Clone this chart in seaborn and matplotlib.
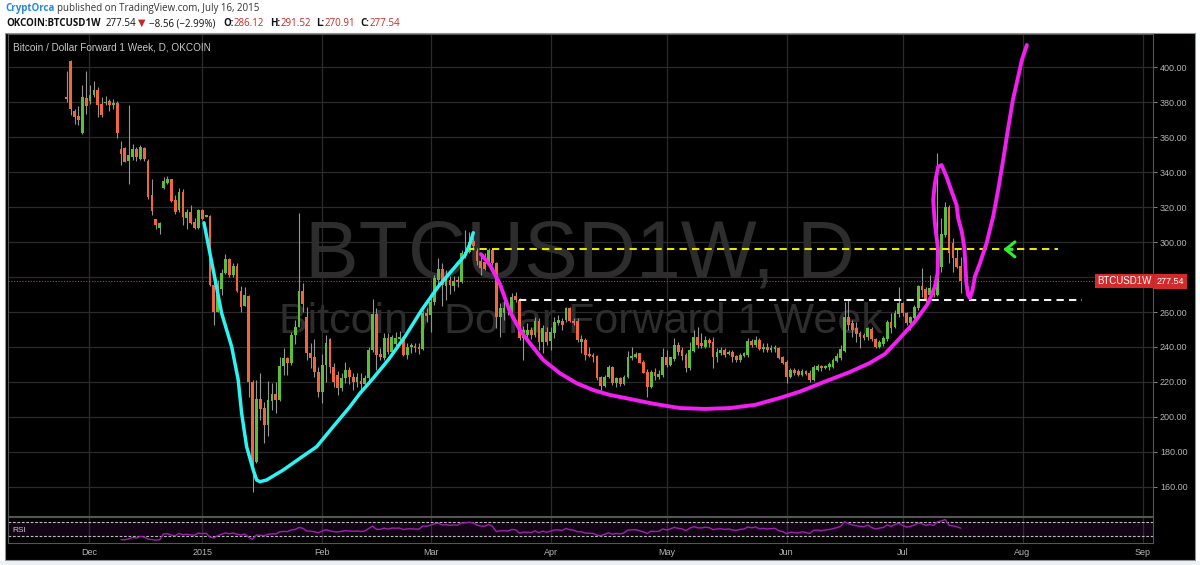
import numpy as np
import pandas as pd
import matplotlib
matplotlib.use("Agg")
import matplotlib.pyplot as plt
import matplotlib.dates as mdates
from matplotlib.patches import Rectangle
import seaborn as sns

# ---------------- data ----------------
START = "2014-11-27"
# daily OHLC, Nov 27 2014 -> Jul 16 2015
OPEN = [
    383, 403.4, 374.7, 372,                                                   # Nov 27-30
    362.3, 382.5, 380.4, 383.8, 386.7, 378.7, 379.5, 380.6, 378.5, 379.4,     # Dec 1-10
    353.3, 354, 346.5, 348.6, 353.3, 347.6, 353.7, 346.1, 326.7, 313,         # Dec 11-20
    308, 330.9, 333.7, 335.8, 323.8, 318.1, 328.6, 313.9, 317.1, 311.4, 308,  # Dec 21-31
    318.5, 314.5, 314.6, 275.2, 260.2, 272.9, 282.1, 290.1, 281.1, 286.3,     # Jan 1-10
    272.2, 263.6, 269.1, 219.8, 174.5, 210.3, 204.9, 195.4, 209.3, 212.9,     # Jan 11-20
    209.7, 229.3, 233.5, 231, 246.9, 251.6, 272.2, 257.3, 236.4, 234, 225.9,  # Jan 21-31
    214.1, 229.7, 244.4, 228.8, 224, 216.4, 222.1, 226.9, 223, 220.2,         # Feb 1-10
    220.6, 218.9, 222.1, 238.3, 259, 236, 233.5, 245, 237.3, 241.7,           # Feb 11-20
    244.4, 245.5, 235.4, 240.2, 240.8, 240.2, 238.7, 259.2,                   # Feb 21-28
    258.3, 265.9, 278.3, 284.4, 274.9, 278.3, 274.9, 278.3, 277.3, 293.5,     # Mar 1-10
    294.5, 300.8, 295, 289.3, 288.8, 289.3, 295.4, 287.8, 257.3, 259.2,       # Mar 11-20
    262.1, 260.2, 269.1, 266.9, 245, 247, 249.7, 246.9, 255, 243, 248.8,      # Mar 21-31
    243.6, 247.8, 253.5, 255, 255.4, 262.1, 255, 255, 243, 244,               # Apr 1-10
    235.4, 235.4, 234.9, 223, 217.7, 222.7, 228.4, 219.2, 222.5, 218.9,       # Apr 11-20
    222.7, 233.8, 234.5, 236.4, 231.6, 225.9, 217, 225.9, 223.1, 224,         # Apr 21-30
    234.1, 229.7, 233, 241.1, 238.3, 235.4, 227.8, 237.9, 245.9, 242.1,       # May 1-10
    240.2, 244, 242.7, 234.5, 236.4, 238.3, 235.8, 237.3, 234.9, 232.6,       # May 11-20
    234.9, 235.4, 243.6, 241.1, 244, 238.7, 240.2, 238.3, 239, 239.2, 234.5,  # May 21-31
    231.6, 223, 226.9, 226.5, 224, 226.5, 225.4, 221.1, 226.9, 229.2,         # Jun 1-10
    227.8, 228.4, 228.8, 232.2, 233.5, 237.9, 257.3, 253.5, 250.7, 248.2,     # Jun 11-20
    246.9, 245.5, 250.5, 244.4, 240.2, 241.7, 244.4, 254.5, 251.6, 258.8,     # Jun 21-30
    265.3, 259.2, 253.9, 256.4, 262.1, 274.9, 273, 269.7, 273.5, 269.7,       # Jul 1-10
    285.9, 304, 320.2, 299.2, 290.7, 286.12,                                  # Jul 11-16
]
HIGH = [
    398, 404, 376, 378,
    389.5, 397.5, 389.5, 391.8, 388.6, 382.9, 383.4, 381.5, 381.5, 380.4,
    358, 354.3, 378.1, 356.2, 354.3, 355.6, 354.3, 347.2, 335.8, 313.3,
    311.4, 337, 337.5, 336.2, 326.7, 330.9, 330.5, 318.7, 321, 313.7, 319,
    319, 315.2, 315.2, 283.8, 278.3, 284.4, 293.1, 291, 287.8, 287.8,
    274.9, 274.1, 269.7, 221.1, 221.1, 225, 208.7, 220.6, 219.2, 220.2,
    234.5, 239.6, 234.5, 248.8, 255.4, 316.4, 276.4, 263, 242.1, 244.4, 228.8,
    235.8, 246.9, 245, 230.6, 226, 225, 231.6, 228.8, 225, 225,
    225.3, 224, 240.2, 267.2, 262.1, 239.2, 247.8, 247.8, 246.9, 248.8,
    249.3, 246.3, 242.1, 242.1, 242.5, 242.1, 261.1, 262.1,
    268.8, 281.1, 290.7, 287.8, 284, 280.6, 280.6, 280.6, 295.4, 306.9,
    305.9, 303, 296.4, 292.6, 293.5, 296.4, 296.4, 288.8, 265, 267.8,
    264, 270.7, 271.6, 267.8, 252, 253.5, 251.6, 257.3, 256.4, 252.6, 251.6,
    251.6, 257.3, 258.3, 256.4, 263, 263, 256.4, 256.4, 246.9, 244.9,
    240.2, 236.4, 235.4, 223.4, 224, 229.7, 229.2, 223, 223, 224,
    237.9, 240.2, 237.3, 236.8, 232.6, 227.2, 226.9, 227.8, 226.9, 239.2,
    238.3, 234.5, 245, 243, 240.2, 236.4, 243, 249.7, 251.6, 248.2,
    246.3, 245, 245.9, 239.2, 240.2, 239.2, 238.3, 238.3, 235.4, 236.4,
    237.3, 245, 244.4, 246.3, 244.9, 242.1, 242.1, 241.1, 241.1, 240.2, 234.9,
    232.6, 227.8, 227.8, 227.2, 227.2, 226.9, 226.9, 229.7, 230.3, 229.7,
    229.9, 231.6, 233.5, 236.4, 241.1, 265.9, 266.9, 255.4, 254.5, 249.3,
    247.8, 251.6, 251.2, 245, 244, 246.3, 255.4, 259.2, 261.1, 274.5,
    265.9, 260.2, 257.7, 264, 275.4, 285, 274.5, 281.1, 274.5, 350.7,
    313.5, 323, 321.2, 302.1, 296.4, 291.52,
]
LOW = [
    380, 372.4, 367.6, 367,
    362, 373.3, 379, 382.9, 371.4, 371.2, 378.5, 375, 375.8, 359.4,
    343.8, 345.7, 333.3, 346.7, 346.1, 346.7, 346.1, 324.8, 315.6, 307.6,
    304.8, 330.5, 333.1, 322.9, 316.2, 317.1, 309.5, 307.2, 310.5, 307.6, 307.6,
    312.4, 314.2, 275, 252.4, 260, 269.7, 281.7, 280.2, 280.2, 271.6,
    260.2, 263.4, 211.6, 157.3, 173.5, 198.3, 185, 189.1, 204, 202.5,
    209.3, 224, 224, 229.7, 241.5, 251.6, 260.2, 232.6, 227.8, 223.1, 211.6,
    207.8, 220.2, 225, 217, 212.6, 215, 219.2, 219, 215.4, 217,
    214.5, 218.3, 220.2, 237.3, 226.9, 232.6, 232.6, 236, 235.4, 240.6,
    244, 234.9, 233, 236.4, 237.3, 236, 238.3, 254.5,
    248.8, 264, 274.9, 263.4, 266.9, 270.3, 272.2, 274.1, 276.4, 290.7,
    293.5, 295.4, 286.9, 281.1, 284, 287.8, 286.9, 250.7, 245.9, 255.4,
    258.5, 259.2, 265.9, 244, 232.6, 244, 244.5, 245.9, 238.3, 236.4, 241.1,
    238.3, 244.9, 252.6, 249.7, 254.5, 254.5, 252.6, 243, 236.4, 232.6,
    234.5, 231.6, 221.1, 215.4, 217.3, 222.1, 218.3, 217.3, 217.7, 218.3,
    222.1, 232.6, 233.5, 230.7, 225, 211.6, 216.4, 221.1, 221.5, 223,
    228.8, 229.3, 232.2, 235.4, 232.6, 225.9, 226.9, 237.3, 239.2, 239.2,
    239.2, 240.2, 227.8, 231.6, 235.4, 234.5, 235.4, 231.6, 231.6, 231.6,
    234.5, 234.5, 240.2, 240.2, 238.3, 237.3, 237.3, 237.3, 237.3, 233, 230.3,
    219.2, 222.1, 224, 223.4, 223.4, 224, 220.2, 220.8, 226.5, 226.5,
    227.2, 226.9, 227.8, 231.6, 232.6, 237.3, 249.7, 245.9, 243, 239.2,
    244, 244, 243.6, 239.2, 239.2, 240.6, 243.6, 247.8, 250.7, 257.3,
    257.7, 252.6, 249.7, 255.4, 261.1, 268.8, 264, 268.8, 268.8, 269.1,
    283.1, 303, 288.2, 283.1, 284.9, 270.91,
]
CLOSE = [
    382, 376.2, 371.4, 370,
    382.9, 377.7, 384.2, 386.7, 378.5, 372.8, 380, 378.5, 379.4, 362.3,
    350.3, 346, 349.5, 353.3, 348.6, 354.1, 347.2, 325.7, 317.5, 310,
    311, 334.7, 336.2, 323.2, 317.1, 328.6, 314.3, 317.1, 310.9, 308, 318.5,
    313, 314.9, 275.2, 260, 272.9, 282.5, 290.1, 281.1, 286.3, 272,
    263.1, 269.7, 219.8, 174.5, 210.3, 204.4, 195.4, 209.7, 212.9, 209.7,
    229.3, 233.5, 231, 246.9, 251.6, 272.2, 264.6, 236.4, 233.5, 225.9, 214.1,
    229.7, 242.1, 228.8, 220.2, 216.4, 222.1, 226.9, 223, 220.2, 223,
    218.9, 222.1, 238.3, 259, 235.4, 234.1, 245, 237.3, 245.5, 244.9,
    245.5, 235.4, 240.2, 240.8, 239.2, 238.7, 259.2, 257.7,
    265.9, 279.2, 284.4, 275.4, 278.3, 275.4, 277.7, 277.3, 293.5, 294.5,
    300.2, 297.7, 289.3, 285, 284.4, 295.4, 287.8, 257.3, 262.1, 262.1,
    261.1, 268.8, 266.9, 244.9, 249.7, 249.7, 246.9, 255, 243, 250.7, 243,
    248.8, 254.5, 255.4, 252.6, 262.1, 255, 253.5, 244, 244.5, 235.4,
    235, 234.5, 222.1, 217.7, 223, 228.4, 219.2, 222.1, 218.9, 222.7,
    234.5, 234.9, 236, 231, 225.4, 217, 225.9, 223.4, 224.5, 234.1,
    229.7, 234.1, 241.1, 237.3, 234.9, 227.8, 238.3, 245.9, 241.1, 240.6,
    244, 242.5, 234.5, 237.3, 238.3, 235.4, 237.3, 234.1, 232.6, 235.4,
    236.8, 243.6, 241.1, 244, 238.7, 240.2, 238.3, 239.6, 240.2, 233.5, 230.7,
    223, 226.9, 225, 224, 226.5, 224.5, 221.1, 228.8, 229.2, 227.8,
    229.2, 230.3, 232.6, 234.9, 238.7, 257.3, 252.6, 249.7, 247.4, 245.9,
    244.9, 250.7, 244.4, 240.2, 243, 244.9, 254.5, 250.7, 259.2, 265.3,
    259.2, 253.9, 256.9, 263, 274.9, 272.6, 267.3, 273.5, 269.7, 295.4,
    304.6, 320.2, 293.9, 290.7, 285.9, 277.54,
]

# hand-drawn annotation curves: days after 2015-01-01 and price
CYAN_DAY = [0.44, 2.84, 5.01, 7.60, 9.30, 10.18, 11.47, 13.18, 14.06, 14.91, 16.64,
            20.93, 25.25, 29.56, 33.85, 38.17, 40.75, 43.77, 48.06, 52.38, 56.69,
            60.98, 65.37, 67.95, 69.24, 70.03]
CYAN_PRICE = [311.0, 284.0, 259.3, 240.2, 221.1, 202.1, 183.0, 169.7, 164.0, 163.0, 164.0,
              169.7, 176.4, 183.0, 194.5, 205.9, 213.5, 221.1, 232.6, 245.9, 261.1,
              274.5, 285.9, 292.6, 299.3, 305.3]
MAG_DAY = [72.02, 74.34, 76.93, 79.51, 82.09, 84.68, 88.11, 92.43, 96.74, 101.03, 105.35,
           110.52, 116.98, 123.44, 129.90, 136.36, 142.82, 149.28, 154.44, 160.90, 167.36,
           172.53, 176.41, 179.84, 184.16, 187.60, 189.33, 190.03, 190.18, 189.33, 188.89,
           189.33, 190.18, 191.06, 192.35, 193.64, 194.94, 195.35, 196.30, 196.95, 197.21,
           197.47, 197.93, 198.37, 199.07, 199.66, 200.96, 202.69, 204.39, 205.68, 206.98,
           208.19, 209.48, 210.78, 211.81, 213.10]
MAG_PRICE = [293.1, 286.9, 276.0, 260.2, 249.7, 242.1, 232.6, 225.0, 219.3, 215.4, 212.6,
             210.3, 207.4, 205.1, 204.6, 205.1, 206.9, 210.9, 214.5, 220.2, 225.7,
             230.9, 236.0, 244.0, 254.5, 265.0, 274.5, 282.1, 295.4, 310.7, 324.0,
             333.5, 343.0, 344.0, 337.3, 329.1, 321.1, 313.7, 305.7, 296.6, 286.9,
             276.6, 269.7, 268.0, 272.6, 280.2, 287.8, 299.3, 314.5, 329.7, 346.9,
             364.0, 381.1, 393.7, 404.0, 412.6]
YELLOW_LEVEL = 296.0
YELLOW_SPAN = [68.5, 221.1]
WHITE_LEVEL = 267.0
WHITE_SPAN = [81.8, 227.3]
ARROW_DAY = [210.0, 206.3]      # tail, tip
ARROW_PRICE = [295.8, 295.8]
LAST_PRICE = 277.54

PRICE_TICKS = [160, 180, 200, 220, 240, 260, 280, 300, 320, 340, 360, 380, 400]
MONTH_TICKS = ["2014-12-02 18:00", "2015-01-01 00:00", "2015-02-01 00:00",
               "2015-03-01 00:00", "2015-04-01 00:00", "2015-05-01 00:00",
               "2015-06-01 00:00", "2015-07-01 00:00", "2015-08-01 00:00",
               "2015-09-01 00:00"]
MONTH_LABELS = ["Dec", "2015", "Feb", "Mar", "Apr", "May", "Jun", "Jul", "Aug", "Sep"]

# ---------------- style ----------------
sns.set_theme(style="dark")
plt.rcParams["font.family"] = ["Liberation Sans", "DejaVu Sans"]
HDR = ["Open Sans", "DejaVu Sans"]

W, H = 1200, 565
fig = plt.figure(figsize=(12, 5.65), dpi=100, facecolor="white")


def fx(px):
    return px / W


def fy(py):
    return 1 - py / H


fig.patches.append(Rectangle((0, 0), 1, fy(561), transform=fig.transFigure,
                             facecolor="#eef1f4", edgecolor="none", zorder=-20))
fig.patches.append(Rectangle((fx(5), fy(560)), fx(1195) - fx(5), fy(33) - fy(560),
                             transform=fig.transFigure, facecolor="black",
                             edgecolor="#8d939a", lw=0.8, zorder=-10))

ref = mdates.date2num(pd.Timestamp("2015-01-01").to_pydatetime())
dates = mdates.date2num(pd.date_range(START, periods=len(CLOSE)).to_pydatetime())
month_pos = mdates.date2num(pd.to_datetime(MONTH_TICKS, format="%Y-%m-%d %H:%M").to_pydatetime())
xlim = (ref - 50.2, ref + 245.7)

o = np.array(OPEN); h = np.array(HIGH); l = np.array(LOW); c = np.array(CLOSE)
assert len(o) == len(h) == len(l) == len(c)

# ---------------- main price pane ----------------
ax = fig.add_axes([fx(8), fy(516), fx(1153) - fx(8), fy(34) - fy(516)])
ax.set_facecolor("black")
ax.set_xlim(*xlim)
ax.set_ylim(143.4, 418.9)
ax.set_axisbelow(True)
ax.set_xticks(month_pos)
ax.set_yticks(PRICE_TICKS)
ax.grid(True, color="#2b2b2b", lw=0.9)
ax.tick_params(axis="x", length=0, labelbottom=False)
ax.yaxis.tick_right()
ax.set_yticklabels([f"{v:.2f}" for v in PRICE_TICKS])
ax.tick_params(axis="y", colors="#9a9a9a", labelcolor="#b4b4b4", labelsize=6.5,
               length=3, width=0.6, pad=2, direction="out")
for s in ax.spines.values():
    s.set_color("#555555")
    s.set_linewidth(0.8)

# watermark
ax.text(0.5, 0.494, "BTCUSD1W, D", transform=ax.transAxes, ha="center", va="baseline",
        fontsize=58, color="#2d2d2d", zorder=0.6)
ax.text(0.5, 0.380, "Bitcoin / Dollar Forward 1 Week", transform=ax.transAxes,
        ha="center", va="baseline", fontsize=31, color="#2d2d2d", zorder=0.6)

# candles
up = c >= o
ax.vlines(dates, l, h, colors="#959595", lw=0.8, zorder=2)
body_h = np.maximum(np.abs(c - o), 0.8)
body_b = np.minimum(o, c)
ax.bar(dates[up], body_h[up], bottom=body_b[up], width=0.72, color="#5cbf3a",
       edgecolor="none", zorder=3)
ax.bar(dates[~up], body_h[~up], bottom=body_b[~up], width=0.72, color="#f0673f",
       edgecolor="none", zorder=3)

# last price line
ax.axhline(LAST_PRICE, color="#d0312d", lw=0.8, ls=(0, (1, 1.5)), zorder=2.5)

# horizontal levels
ax.hlines(YELLOW_LEVEL, ref + YELLOW_SPAN[0], ref + YELLOW_SPAN[1], colors="#e6e600",
          lw=1.5, linestyles=(0, (3.5, 2.5)), zorder=4)
ax.hlines(WHITE_LEVEL, ref + WHITE_SPAN[0], ref + WHITE_SPAN[1], colors="#f2f2f2",
          lw=1.5, linestyles=(0, (3.5, 2.5)), zorder=4)

# hand-drawn curves
cyan = pd.DataFrame({"x": ref + np.array(CYAN_DAY), "y": CYAN_PRICE})
mag = pd.DataFrame({"x": ref + np.array(MAG_DAY), "y": MAG_PRICE})
sns.lineplot(data=cyan, x="x", y="y", ax=ax, sort=False, estimator=None,
             color="#2cf4f4", lw=2.5, zorder=5, solid_capstyle="round",
             solid_joinstyle="round")
sns.lineplot(data=mag, x="x", y="y", ax=ax, sort=False, estimator=None,
             color="#f21ef2", lw=2.8, zorder=5, solid_capstyle="round",
             solid_joinstyle="round")
ax.set_xlabel("")
ax.set_ylabel("")

# green arrow
ax.annotate("", xy=(ref + ARROW_DAY[1], ARROW_PRICE[1]),
            xytext=(ref + ARROW_DAY[0], ARROW_PRICE[0]),
            arrowprops=dict(arrowstyle="->,head_length=0.55,head_width=0.45",
                            color="#2ef02e", lw=2.2), zorder=6)

# price labels
ax.text(0.9985, LAST_PRICE, "BTCUSD1W", transform=ax.get_yaxis_transform(),
        ha="right", va="center", fontsize=7, color="white", zorder=7,
        bbox=dict(boxstyle="square,pad=0.22", facecolor="#d32b2b", edgecolor="none"))
ax.text(1.003, LAST_PRICE, "277.54", transform=ax.get_yaxis_transform(),
        ha="left", va="center", fontsize=6.5, color="white", zorder=7, clip_on=False,
        bbox=dict(boxstyle="square,pad=0.3", facecolor="#d32b2b", edgecolor="none"))

# ---------------- RSI pane ----------------
cs = pd.Series(CLOSE)
delta = cs.diff()
gain = delta.clip(lower=0)
loss = (-delta).clip(lower=0)
ag = gain.ewm(alpha=1 / 14, adjust=False, min_periods=14).mean()
al = loss.ewm(alpha=1 / 14, adjust=False, min_periods=14).mean()
rsi = 100 - 100 / (1 + ag / al)
rsi_df = pd.DataFrame({"x": dates, "rsi": rsi}).dropna()

rax = fig.add_axes([fx(8), fy(543), fx(1153) - fx(8), fy(517) - fy(543)])
rax.set_facecolor("black")
rax.set_xlim(*xlim)
rax.set_ylim(8.7, 86.4)
rax.set_axisbelow(True)
rax.axhspan(30, 70, color="#8e24aa", alpha=0.13, lw=0)
rax.axhline(70, color="#bdbdbd", lw=0.8, ls=(0, (2.5, 1.5)))
rax.axhline(30, color="#bdbdbd", lw=0.8, ls=(0, (2.5, 1.5)))
sns.lineplot(data=rsi_df, x="x", y="rsi", ax=rax, estimator=None, color="#a020b0", lw=1.0)
rax.set_xlabel("")
rax.set_ylabel("")
rax.set_yticks([])
rax.set_xticks(month_pos)
rax.set_xticklabels(MONTH_LABELS)
rax.grid(True, axis="x", color="#2b2b2b", lw=0.9)
rax.tick_params(axis="x", colors="#8a8a8a", labelcolor="#b4b4b4", labelsize=6.5,
                length=3, width=0.6, pad=0.5)
for s in rax.spines.values():
    s.set_color("#555555")
    s.set_linewidth(0.8)
rax.text(0.004, 0.48, "RSI", transform=rax.transAxes, ha="left", va="center",
         fontsize=6, color="#c8c8c8")

# ---------------- header and title ----------------
fig.text(fx(13), fy(48), "Bitcoin / Dollar Forward 1 Week, D, OKCOIN", color="#c8c8c8",
         fontsize=7.2, va="center", ha="left")

fig.text(fx(5), fy(9), "CryptOrca", color="#2a8ad4", fontsize=7, fontweight="bold",
         va="center", ha="left", family=HDR)
fig.text(fx(57), fy(9), "published on TradingView.com, July 16, 2015", color="#333333",
         fontsize=7, va="center", ha="left", family=HDR)

RED = "#c62828"
pieces = [
    (6, "OKCOIN:BTCUSD1W", "#111111", "bold"),
    (106, "277.54", "#111111", "normal"),
    (138, "\u25BC", RED, "normal"),
    (149, "\u22128.56 (\u22122.99%)", "#111111", "normal"),
    (223, "O:", "#111111", "bold"),
    (234, "286.12", RED, "normal"),
    (270, "H:", "#111111", "bold"),
    (281, "291.52", RED, "normal"),
    (316, "L:", "#111111", "bold"),
    (325, "270.91", RED, "normal"),
    (360, "C:", "#111111", "bold"),
    (370, "277.54", RED, "normal"),
]
for px, txt, col, wt in pieces:
    fig.text(fx(px), fy(23.5), txt, color=col, fontsize=7, fontweight=wt,
             va="center", ha="left", family=HDR)

fig.savefig("out.png", dpi=100, facecolor=fig.get_facecolor())
